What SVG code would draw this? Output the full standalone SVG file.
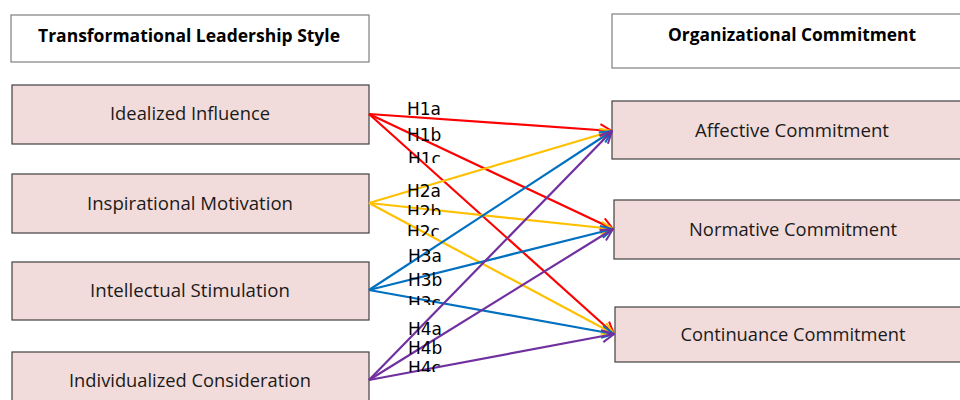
<svg xmlns="http://www.w3.org/2000/svg" width="960" height="400" viewBox="0 0 960 400">
  <style>
    .title { fill: #ffffff; stroke: #7f7f7f; stroke-width: 1.2; }
    .box { fill: #f2dcdb; stroke: #404040; stroke-width: 1.2; }
    .ttxt { font-family: "Open Sans", "Liberation Sans", sans-serif; font-weight: bold; font-size: 17px; fill: #000; text-anchor: middle; }
    .btxt { font-family: "Open Sans", "Liberation Sans", sans-serif; font-size: 18px; fill: #1a1a1a; text-anchor: middle; }
    .lbl { font-family: "DejaVu Sans", sans-serif; font-size: 17px; fill: #000; }
    .c { fill: none; stroke-width: 2.2; }
    .red { stroke: #ff0000; }
    .yel { stroke: #ffc000; }
    .blu { stroke: #0070c0; }
    .pur { stroke: #7030a0; }
  </style>
  <defs>
    <marker id="ah-red" viewBox="0 0 14 14" refX="13" refY="7" markerWidth="14" markerHeight="14" markerUnits="userSpaceOnUse" orient="auto">
      <path d="M1,1 L13,7 L1,13" fill="none" stroke="#ff0000" stroke-width="2"/>
    </marker>
    <marker id="ah-yel" viewBox="0 0 14 14" refX="13" refY="7" markerWidth="14" markerHeight="14" markerUnits="userSpaceOnUse" orient="auto">
      <path d="M1,1 L13,7 L1,13" fill="none" stroke="#ffc000" stroke-width="2"/>
    </marker>
    <marker id="ah-blu" viewBox="0 0 14 14" refX="13" refY="7" markerWidth="14" markerHeight="14" markerUnits="userSpaceOnUse" orient="auto">
      <path d="M1,1 L13,7 L1,13" fill="none" stroke="#0070c0" stroke-width="2"/>
    </marker>
    <marker id="ah-pur" viewBox="0 0 14 14" refX="13" refY="7" markerWidth="14" markerHeight="14" markerUnits="userSpaceOnUse" orient="auto">
      <path d="M1,1 L13,7 L1,13" fill="none" stroke="#7030a0" stroke-width="2"/>
    </marker>
    <clipPath id="cut-h1c"><rect x="400" y="144" width="60" height="19"/></clipPath>
    <clipPath id="cut-h2b"><rect x="400" y="200" width="60" height="15"/></clipPath>
    <clipPath id="cut-h2c"><rect x="400" y="220" width="60" height="16"/></clipPath>
    <clipPath id="cut-h3c"><rect x="400" y="290" width="60" height="15"/></clipPath>
    <clipPath id="cut-h4c"><rect x="400" y="359" width="60" height="13"/></clipPath>
  </defs>

  <!-- construct headings -->
  <g id="tls-heading">
    <rect class="title" x="11" y="15" width="358" height="47"/>
    <text class="ttxt" x="189" y="42" textLength="302" lengthAdjust="spacingAndGlyphs">Transformational  Leadership Style</text>
  </g>
  <g id="oc-heading">
    <rect class="title" x="612" y="14" width="360" height="54"/>
    <text class="ttxt" x="792" y="41" textLength="248" lengthAdjust="spacingAndGlyphs">Organizational  Commitment</text>
  </g>

  <!-- leadership dimensions -->
  <g id="idealized-influence">
    <rect class="box" x="12" y="85" width="357" height="59"/>
    <text class="btxt" x="190" y="120" textLength="160" lengthAdjust="spacingAndGlyphs">Idealized Influence</text>
  </g>
  <g id="inspirational-motivation">
    <rect class="box" x="12" y="174" width="357" height="59"/>
    <text class="btxt" x="190" y="210" textLength="206" lengthAdjust="spacingAndGlyphs">Inspirational Motivation</text>
  </g>
  <g id="intellectual-stimulation">
    <rect class="box" x="12" y="262" width="357" height="58"/>
    <text class="btxt" x="190" y="297" textLength="200" lengthAdjust="spacingAndGlyphs">Intellectual Stimulation</text>
  </g>
  <g id="individualized-consideration">
    <rect class="box" x="12" y="352" width="357" height="58"/>
    <text class="btxt" x="190" y="387" textLength="242" lengthAdjust="spacingAndGlyphs">Individualized Consideration</text>
  </g>

  <!-- commitment dimensions -->
  <g id="affective-commitment">
    <rect class="box" x="612" y="101" width="360" height="58"/>
    <text class="btxt" x="792" y="137" textLength="194" lengthAdjust="spacingAndGlyphs">Affective Commitment</text>
  </g>
  <g id="normative-commitment">
    <rect class="box" x="614" y="200" width="358" height="59"/>
    <text class="btxt" x="793" y="236" textLength="208" lengthAdjust="spacingAndGlyphs">Normative Commitment</text>
  </g>
  <g id="continuance-commitment">
    <rect class="box" x="615" y="307" width="357" height="55"/>
    <text class="btxt" x="793" y="341" textLength="225" lengthAdjust="spacingAndGlyphs">Continuance Commitment</text>
  </g>

  <!-- hypothesised paths -->
  <g id="connectors">
    <line class="c red" x1="369" y1="114" x2="612" y2="131" marker-end="url(#ah-red)"/>
    <line class="c red" x1="369" y1="114" x2="613" y2="229" marker-end="url(#ah-red)"/>
    <line class="c red" x1="369" y1="114" x2="614" y2="334" marker-end="url(#ah-red)"/>
    <line class="c yel" x1="369" y1="203" x2="612" y2="131" marker-end="url(#ah-yel)"/>
    <line class="c yel" x1="369" y1="203" x2="613" y2="229" marker-end="url(#ah-yel)"/>
    <line class="c yel" x1="369" y1="203" x2="614" y2="334" marker-end="url(#ah-yel)"/>
    <line class="c blu" x1="369" y1="290" x2="612" y2="131" marker-end="url(#ah-blu)"/>
    <line class="c blu" x1="369" y1="290" x2="613" y2="229" marker-end="url(#ah-blu)"/>
    <line class="c blu" x1="369" y1="290" x2="614" y2="334" marker-end="url(#ah-blu)"/>
    <line class="c pur" x1="369" y1="380" x2="612" y2="131" marker-end="url(#ah-pur)"/>
    <line class="c pur" x1="369" y1="380" x2="613" y2="229" marker-end="url(#ah-pur)"/>
    <line class="c pur" x1="369" y1="380" x2="614" y2="334" marker-end="url(#ah-pur)"/>
  </g>

  <!-- hypothesis labels -->
  <g id="labels">
    <text class="lbl" x="407" y="115">H1a</text>
    <text class="lbl" x="407" y="141">H1b</text>
    <text class="lbl" x="408" y="165" clip-path="url(#cut-h1c)">H1c</text>
    <text class="lbl" x="407" y="197">H2a</text>
    <text class="lbl" x="407" y="218" clip-path="url(#cut-h2b)">H2b</text>
    <text class="lbl" x="407" y="238" clip-path="url(#cut-h2c)">H2c</text>
    <text class="lbl" x="408" y="262">H3a</text>
    <text class="lbl" x="408" y="286">H3b</text>
    <text class="lbl" x="408" y="309" clip-path="url(#cut-h3c)">H3c</text>
    <text class="lbl" x="408" y="335">H4a</text>
    <text class="lbl" x="408" y="354">H4b</text>
    <text class="lbl" x="408" y="374" clip-path="url(#cut-h4c)">H4c</text>
  </g>
</svg>
